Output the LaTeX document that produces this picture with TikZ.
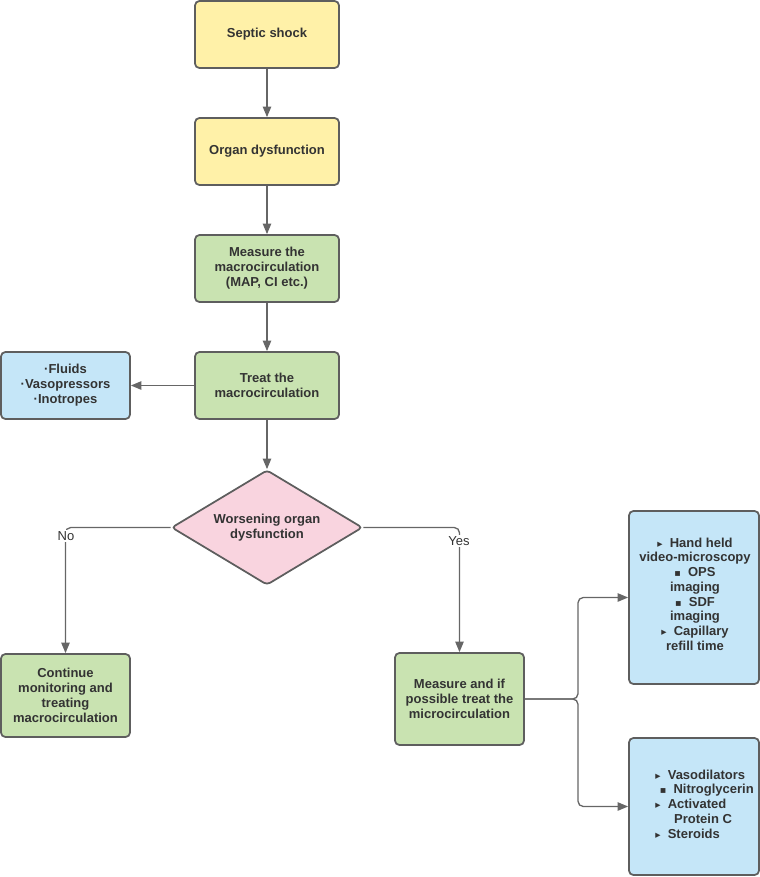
\documentclass[tikz,border=0pt]{standalone}
\usepackage{fontspec}
\setmainfont{Liberation Sans}
\newfontfamily\symfont{DejaVu Sans}
\usetikzlibrary{shapes.geometric,arrows.meta}

\definecolor{boxline}{HTML}{5E5E5E}
\definecolor{linkline}{HTML}{666666}
\definecolor{yellowfill}{HTML}{FFF1A8}
\definecolor{greenfill}{HTML}{C9E3B1}
\definecolor{bluefill}{HTML}{C5E6F8}
\definecolor{pinkfill}{HTML}{F9D4DF}
\definecolor{textgrey}{HTML}{333333}

\newcommand{\tri}{{\symfont\fontsize{6}{6}\selectfont ▸}\hspace{0.55em}}
\newcommand{\sqr}{{\symfont\fontsize{5.5}{6}\selectfont ▪}\hspace{0.55em}}

\tikzset{
	stepbox/.style={draw=boxline, line width=1pt, rounded corners=2.5pt, align=center,
		text=textgrey, font=\fontsize{7.4}{8.6}\selectfont\bfseries, inner sep=1pt},
	link/.style={draw=linkline, line width=0.75pt, -{Triangle[length=6pt,width=4.8pt]}}
}

\begin{document}
\begin{tikzpicture}[x=0.02cm, y=-0.02cm]
	\useasboundingbox (0,0) rectangle (760,877);
	% main column
	\node [stepbox, fill=yellowfill, minimum width=2.88cm, minimum height=1.34cm] (shock) at (267,34.5) {Septic shock};
	\node [stepbox, fill=yellowfill, minimum width=2.88cm, minimum height=1.34cm] (organ) at (267,151.5) {Organ dysfunction};
	\node [stepbox, fill=greenfill, minimum width=2.88cm, minimum height=1.34cm] (measure) at (267,268.5) {Measure the\\macrocirculation\\(MAP, CI etc.)};
	\node [stepbox, fill=greenfill, minimum width=2.88cm, minimum height=1.34cm] (treat) at (267,385.5) {Treat the\\macrocirculation};
	\node [stepbox, fill=bluefill, minimum width=2.58cm, minimum height=1.34cm] (fluids) at (65.5,385.5) {·Fluids\\·Vasopressors\\·Inotropes};
	% decision
	\node [stepbox, diamond, aspect=1.66, fill=pinkfill, inner sep=0pt, rounded corners=2pt,
		minimum width=3.82cm, minimum height=2.3cm] (worse) at (267,527.5) {Worsening organ\\dysfunction};
	\node [stepbox, fill=greenfill, minimum width=2.58cm, minimum height=1.66cm] (cont) at (65.5,695.5) {Continue\\monitoring and\\treating\\macrocirculation};
	\node [stepbox, fill=greenfill, minimum width=2.58cm, minimum height=1.84cm] (micro) at (459.5,699) {Measure and if\\possible treat the\\microcirculation};
	% microcirculation boxes
	\node [stepbox, fill=bluefill, minimum width=2.6cm, minimum height=3.46cm] (tools) at (694,597.5) {};
	\node [align=center, text=textgrey, font=\fontsize{7.4}{8.4}\selectfont\bfseries] (toolstext) at (695,594)
		{\tri Hand held\\video-microscopy\\\sqr OPS\\imaging\\\sqr SDF\\imaging\\\tri Capillary\\refill time};
	\node [stepbox, fill=bluefill, minimum width=2.6cm, minimum height=2.74cm] (drugs) at (694,806.5) {};
	\node [anchor=west, align=left, inner sep=0pt, text=textgrey, font=\fontsize{7.4}{8.4}\selectfont\bfseries] (drugstext) at (655,804)
		{\tri Vasodilators\\\hspace{0.35em}\sqr Nitroglycerin\\\tri Activated\\\hspace{1.45em}Protein C\\\tri Steroids};
	% connectors
	\coordinate (split) at (578,699);
	\draw [link] (shock) -- (organ);
	\draw [link] (organ) -- (measure);
	\draw [link] (measure) -- (treat);
	\draw [link] (treat) -- (fluids);
	\draw [link] (treat) -- (worse);
	\draw [link, rounded corners=3pt] (worse.west) -| (cont.north);
	\draw [link, rounded corners=3pt] (worse.east) -| (micro.north);
	\draw [link, rounded corners=3pt] (micro.east) -- (split) |- (tools.west);
	\draw [link, rounded corners=3pt] (micro.east) -- (split) |- (drugs.west);
	\node [fill=white, inner sep=1pt, text=textgrey, font=\fontsize{7.4}{8.6}\selectfont] (no) at (66,536) {No};
	\node [fill=white, inner sep=1pt, text=textgrey, font=\fontsize{7.4}{8.6}\selectfont] (yes) at (459,541) {Yes};
\end{tikzpicture}
\end{document}
